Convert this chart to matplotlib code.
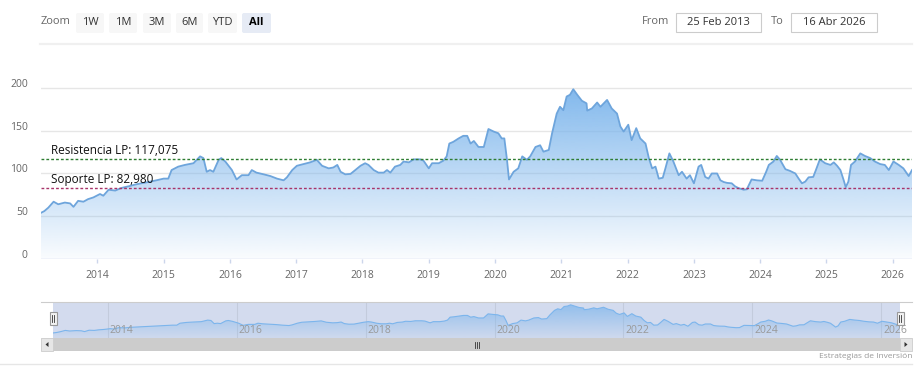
import numpy as np
import matplotlib.pyplot as plt
import matplotlib.colors as mcolors
from matplotlib.patches import Rectangle, PathPatch, FancyBboxPatch, Polygon
from matplotlib.transforms import ScaledTranslation, blended_transform_factory

plt.rcParams['font.family'] = ['Open Sans', 'DejaVu Sans']

W, H = 922, 379

# Serie (fecha en años decimales, precio)
years = [2013.15, 2013.20, 2013.26, 2013.34, 2013.41, 2013.51, 2013.59, 2013.64, 2013.71, 2013.79,
         2013.86, 2013.94, 2014.04, 2014.09, 2014.17, 2014.27, 2014.36, 2014.47, 2014.57, 2014.66,
         2014.77, 2014.89, 2015.00, 2015.07, 2015.12, 2015.22, 2015.32, 2015.45, 2015.55, 2015.60,
         2015.65, 2015.70, 2015.75, 2015.83, 2015.87, 2015.93, 2016.03, 2016.10, 2016.18, 2016.28,
         2016.33, 2016.40, 2016.51, 2016.61, 2016.71, 2016.81, 2016.86, 2016.94, 2017.01, 2017.11,
         2017.21, 2017.31, 2017.39, 2017.49, 2017.56, 2017.62, 2017.67, 2017.74, 2017.82, 2017.89,
         2017.97, 2018.04, 2018.09, 2018.17, 2018.24, 2018.32, 2018.37, 2018.42, 2018.49, 2018.57,
         2018.62, 2018.70, 2018.77, 2018.87, 2018.92, 2019.00, 2019.05, 2019.15, 2019.22, 2019.27,
         2019.31, 2019.37, 2019.45, 2019.52, 2019.58, 2019.63, 2019.68, 2019.75, 2019.83, 2019.90,
         2019.98, 2020.05, 2020.10, 2020.14, 2020.18, 2020.21, 2020.28, 2020.35, 2020.41, 2020.48,
         2020.53, 2020.61, 2020.68, 2020.73, 2020.81, 2020.86, 2020.93, 2020.98, 2021.03, 2021.08,
         2021.13, 2021.18, 2021.24, 2021.31, 2021.38, 2021.39, 2021.46, 2021.54, 2021.59, 2021.69,
         2021.76, 2021.84, 2021.89, 2021.94, 2022.01, 2022.06, 2022.13, 2022.19, 2022.27, 2022.32,
         2022.37, 2022.42, 2022.47, 2022.53, 2022.57, 2022.63, 2022.69, 2022.77, 2022.82, 2022.89,
         2022.94, 2023.00, 2023.07, 2023.11, 2023.17, 2023.22, 2023.27, 2023.35, 2023.40, 2023.45,
         2023.50, 2023.57, 2023.62, 2023.67, 2023.75, 2023.80, 2023.82, 2023.87, 2023.95, 2024.03,
         2024.09, 2024.13, 2024.20, 2024.25, 2024.30, 2024.38, 2024.45, 2024.53, 2024.58, 2024.63,
         2024.68, 2024.73, 2024.80, 2024.84, 2024.90, 2024.98, 2025.06, 2025.11, 2025.16, 2025.21,
         2025.26, 2025.29, 2025.33, 2025.37, 2025.43, 2025.51, 2025.58, 2025.66, 2025.73, 2025.81,
         2025.88, 2025.94, 2026.01, 2026.09, 2026.16, 2026.24, 2026.29]
price = [54, 56, 60, 67, 64, 66, 65, 61, 68, 67,
         70, 72, 76, 74, 81, 80, 83, 85, 87, 88.5,
         90, 92, 94, 94, 104, 108, 110, 112, 120, 118,
         102, 104, 102, 116, 118, 114, 104, 93, 98, 98,
         104, 101, 99, 97, 94, 92, 95.5, 104, 109, 111,
         113, 116, 109, 106, 107, 110, 102, 99, 99.5, 104,
         109, 112, 110, 104, 101, 101, 104, 101, 108, 110,
         114, 113, 116.5, 116.5, 115, 106, 112, 112, 115, 120,
         135, 137, 141, 144, 144, 135, 138, 131, 131, 152,
         149, 147, 141, 141, 116, 93, 102, 106, 120, 116,
         120, 131, 133, 125.5, 127.5, 147, 170, 178, 174, 190,
         192, 198.5, 192, 185, 182, 173.5, 176, 183, 178, 186,
         176, 170, 155, 149, 157, 139, 153, 141, 135, 118,
         106, 108, 94, 95, 106, 123.5, 114, 98, 102, 94,
         98, 88.5, 108, 110, 96, 94, 100, 100, 92, 90,
         89, 88.5, 85, 83, 81, 81.5, 85, 93, 92, 91.5,
         102, 110, 114, 120.5, 116, 105, 103, 100, 94, 88.5,
         90.5, 95.5, 96, 104, 116.5, 112, 110, 113, 109, 104,
         92, 84, 90.5, 110, 114, 123.5, 120.5, 118, 114, 111,
         110, 104, 114, 110, 106, 97, 104]

resistencia = 117.075
soporte = 82.980
y_ticks = [0, 50, 100, 150, 200]
x_years = list(range(2014, 2027))
nav_years = list(range(2014, 2027, 2))
botones = ['1W', '1M', '3M', '6M', 'YTD', 'All']
fecha_desde = '25 Feb 2013'
fecha_hasta = '16 Abr 2026'


def caja(l, t, r, b):
    # caja en pixeles -> coordenadas de figura
    return [l / W, 1 - b / H, (r - l) / W, (b - t) / H]


def area_degradado(ax, x, y, base, color, a0, a1, z=2):
    poly = ax.fill_between(x, y, base, color='none', lw=0)
    clip = PathPatch(poly.get_paths()[0], transform=ax.transData, fc='none', ec='none')
    ax.add_patch(clip)
    grad = np.zeros((256, 1, 4))
    grad[:, 0, :3] = mcolors.to_rgb(color)
    grad[:, 0, 3] = np.linspace(a0, a1, 256)
    im = ax.imshow(grad, extent=[min(x), max(x), base, max(y)], aspect='auto',
                   origin='upper', zorder=z, interpolation='bilinear')
    im.set_clip_path(clip)


def capa():
    a = fig.add_axes([0, 0, 1, 1])
    a.set_xlim(0, W)
    a.set_ylim(H, 0)
    a.axis('off')
    return a


fig = plt.figure(figsize=(W / 100, H / 100), dpi=100)
ui = capa()

# --- barra superior: zoom y fechas ---
ui.text(41, 22, 'Zoom', fontsize=8, color='#666666', ha='left', va='center')
pos_botones = [(76, 104), (109, 137), (143, 171), (176, 203), (208, 237), (242, 271)]
for b, (l, r) in zip(botones, pos_botones):
    activo = b == 'All'
    ui.add_patch(FancyBboxPatch((l, 13), r - l, 20, boxstyle='round,pad=0,rounding_size=2',
                                fc='#e6ebf5' if activo else '#f7f7f7', ec='none'))
    ui.text((l + r) / 2, 22.5, b, fontsize=8, color='#333333' if not activo else '#000000',
            fontweight='bold' if activo else 'normal', ha='center', va='center')

ui.text(642, 22, 'From', fontsize=8, color='#666666', ha='left', va='center')
ui.add_patch(Rectangle((676, 13), 85, 19, fc='white', ec='#cccccc', lw=0.8))
ui.text(718.5, 22.5, fecha_desde, fontsize=8, color='#333333', ha='center', va='center')
ui.text(771, 22, 'To', fontsize=8, color='#666666', ha='left', va='center')
ui.add_patch(Rectangle((791, 13), 86, 19, fc='white', ec='#cccccc', lw=0.8))
ui.text(834, 22.5, fecha_hasta, fontsize=8, color='#333333', ha='center', va='center')
ui.plot([40, 912], [44, 44], color='#f0f0f0', lw=1.6)

# --- grafico principal ---
ax = fig.add_axes(caja(41, 79.4, 912, 259))
for s in ax.spines.values():
    s.set_visible(False)
for v in y_ticks[1:]:
    ax.axhline(v, color='#e6e6e6', lw=1, zorder=1)
ax.axhline(0, color='#ccd6eb', lw=1, zorder=1)

area_degradado(ax, years, price, 0, '#7cb5ec', 0.95, 0.04, z=2)
ax.plot(years, price, color='#6ea5dc', lw=1.3, zorder=3)

ax.axhline(resistencia, color='#2e7d32', lw=1, ls=(0, (2, 1.5)), zorder=4)
ax.axhline(soporte, color='#a8346a', lw=1, ls=(0, (2, 1.5)), zorder=4)
tr = blended_transform_factory(ax.transAxes, ax.transData)
ax.annotate('Resistencia LP: 117,075', xy=(0, resistencia), xycoords=tr,
            xytext=(7.2, 1.2), textcoords='offset points', fontsize=8.5, color='#111111',
            ha='left', va='bottom', zorder=5)
ax.annotate('Soporte LP: 82,980', xy=(0, soporte), xycoords=tr,
            xytext=(7.2, 1.2), textcoords='offset points', fontsize=8.5, color='#111111',
            ha='left', va='bottom', zorder=5)

ax.set_xlim(years[0], years[-1])
ax.set_ylim(0, 210)
ax.set_yticks(y_ticks)
ax.set_xticks(x_years)
ax.tick_params(axis='y', length=0, pad=9.5, labelsize=7.5, labelcolor='#666666')
ax.tick_params(axis='x', length=3, width=1, color='#ccd6eb', pad=5, labelsize=7.5,
               labelcolor='#666666')
for lab in ax.get_yticklabels():
    lab.set_transform(lab.get_transform() + ScaledTranslation(0, 5 / 100, fig.dpi_scale_trans))
ax.set_facecolor('none')

# --- navegador ---
nav = fig.add_axes(caja(53, 302, 900, 338))
nav.set_facecolor('#d3dbee')
for s in nav.spines.values():
    s.set_visible(False)
for yr in nav_years:
    nav.axvline(yr, color='#c3cbdc', lw=0.8, zorder=1)
    nav.annotate(str(yr), xy=(yr, 0), xycoords=blended_transform_factory(nav.transData, nav.transAxes),
                 xytext=(1.5, 1.5), textcoords='offset points', fontsize=7.5, color='#999999',
                 ha='left', va='bottom', zorder=5)
area_degradado(nav, years, price, 28, '#7cb5ec', 0.75, 0.05, z=2)
nav.plot(years, price, color='#7cb5ec', lw=0.8, zorder=3)
nav.set_xlim(years[0], years[-1])
nav.set_ylim(28, 213)
nav.set_xticks([])
nav.set_yticks([])

# capa superior: borde, asas y barra de desplazamiento
top = capa()
top.plot([41, 912], [302, 302], color='#cccccc', lw=0.8)
for hx in (53, 900):
    top.add_patch(Rectangle((hx - 3.5, 312), 7, 13, fc='#f2f2f2', ec='#999999', lw=0.8))
    top.plot([hx - 1, hx - 1], [315, 322], color='#333333', lw=0.6)
    top.plot([hx + 1, hx + 1], [315, 322], color='#333333', lw=0.6)

top.add_patch(Rectangle((41, 338), 871, 13, fc='#f2f2f2', ec='none'))
top.add_patch(Rectangle((53, 338), 847, 13, fc='#cccccc', ec='none'))
top.add_patch(Rectangle((41, 338), 12, 13, fc='#e6e6e6', ec='#cccccc', lw=0.6))
top.add_patch(Rectangle((900, 338), 12, 13, fc='#e6e6e6', ec='#cccccc', lw=0.6))
top.add_patch(Polygon([[45.5, 344.5], [48.5, 342], [48.5, 347]], closed=True, fc='#333333', ec='none'))
top.add_patch(Polygon([[907.5, 344.5], [904.5, 342], [904.5, 347]], closed=True, fc='#333333', ec='none'))
for gx in (474.5, 476.5, 478.5):
    top.plot([gx, gx], [341.5, 347.5], color='#333333', lw=0.6)

top.plot([0, 912], [364, 364], color='#e6e6e6', lw=1)
top.text(912, 356, 'Estrategias de Inversión', fontsize=6, color='#999999', ha='right', va='center')

fig.savefig('out.png', dpi=100)
